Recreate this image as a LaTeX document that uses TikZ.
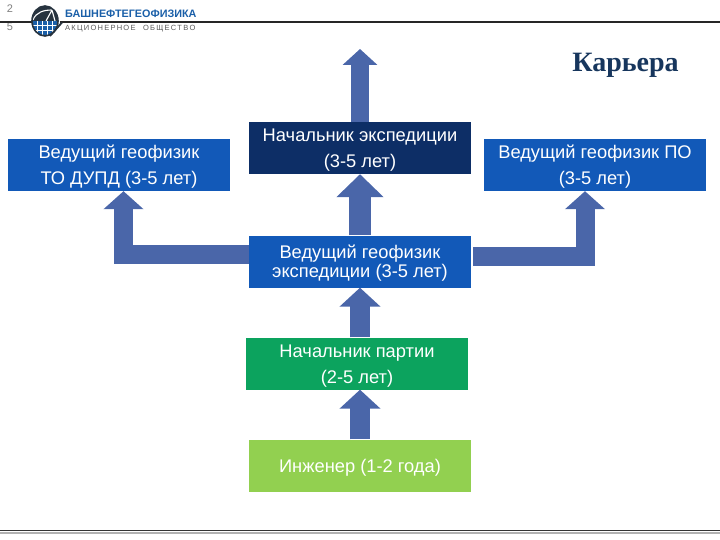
\documentclass[tikz,border=0pt]{standalone}
\usepackage{fontspec}
\setmainfont{Liberation Sans}
\newfontfamily\titlefont{Liberation Serif}
\usetikzlibrary{arrows.meta}
\definecolor{bluebox}{HTML}{1259B8}
\definecolor{darkbox}{HTML}{0D2E66}
\definecolor{greenbox}{HTML}{0CA35E}
\definecolor{limebox}{HTML}{92D050}
\definecolor{arrowblue}{HTML}{4A66A9}
\definecolor{titleblue}{HTML}{17365D}
\definecolor{logoblue}{HTML}{1A5FA8}
\definecolor{logodark}{HTML}{27333F}
\newcommand\dropline{\rule{0pt}{17.5pt}}
\tikzset{
  boxnode/.style={draw=none,minimum width=222pt,minimum height=52pt,inner sep=0pt,align=center,text=white},
  wide/.style={font=\fontsize{18.3}{26}\selectfont},
  tight/.style={font=\fontsize{18.3}{19}\selectfont},
  blockup/.style={draw=arrowblue,line width=20pt,-{Triangle[length=19pt,width=40pt]},arrowblue},
  blockbig/.style={draw=arrowblue,line width=19pt,-{Triangle[length=18pt,width=39pt]},arrowblue},
}
\begin{document}
\begin{tikzpicture}[x=1pt,y=-1pt]
\useasboundingbox (0,0) rectangle (720,540);
% header
\draw[line width=2.5pt,black!85] (0,22) -- (720,22);
\node[text=gray,font=\fontsize{11}{11}\selectfont,inner sep=0pt] (pa) at (10,9) {2};
\node[text=gray,font=\fontsize{11}{11}\selectfont,inner sep=0pt] (pb) at (10,27) {5};
% logo
\fill[white] (30,5) rectangle (60,38);
\draw[line width=2.5pt,black!85] (0,22) -- (32,22);
\fill[logoblue] (45,21) ellipse (13 and 15);
\begin{scope}
\clip (45,21) ellipse (13 and 15);
\fill[logodark] (30,5) rectangle (60,21);
\draw[white,line width=0.7pt] (30,25) -- (60,25) (30,30) -- (60,30);
\draw[white,line width=0.7pt] (37,21) -- (37,37) (42,21) -- (42,37) (47,21) -- (47,37) (52,21) -- (52,37);
\draw[white,line width=1.1pt] (33,20) .. controls (36,12) and (44,10) .. (52,10);
\draw[white,line width=1.1pt] (46,21) -- (52,10) -- (55,21);
\end{scope}
\draw[logodark,line width=1.6pt] (45,21) ellipse (13 and 15);
\draw[logodark,line width=1.8pt] (50,36) -- (62,22.5);
\node[anchor=west,inner sep=0pt,text=logoblue,font=\fontsize{10.8}{11}\selectfont\bfseries] (co) at (65,14) {БАШНЕФТЕГЕОФИЗИКА};
\node[anchor=west,inner sep=0pt,text=black!65,font=\fontsize{7.5}{8}\selectfont] (sub) at (65,28.5) {А\,К\,Ц\,И\,О\,Н\,Е\,Р\,Н\,О\,Е\quad О\,Б\,Щ\,Е\,С\,Т\,В\,О};
% title
\node[text=titleblue,font=\fontsize{28}{30}\titlefont\bfseries,inner sep=0pt] (title) at (625.5,65) {Карьера};
% boxes
\node[boxnode,wide,fill=bluebox] (left) at (119,165) {\dropline Ведущий геофизик\\ТО ДУПД (3-5 лет)};
\node[boxnode,wide,fill=darkbox] (chief) at (360,148) {\dropline Начальник экспедиции\\(3-5 лет)};
\node[boxnode,wide,fill=bluebox] (right) at (595,165) {\dropline Ведущий геофизик ПО\\(3-5 лет)};
\node[boxnode,tight,fill=bluebox] (lead) at (360,261.5) {\dropline Ведущий геофизик\\экспедиции (3-5 лет)};
\node[boxnode,wide,fill=greenbox] (party) at (357,363.5) {\dropline Начальник партии\\(2-5 лет)};
\node[boxnode,wide,fill=limebox] (eng) at (360,465.5) {\dropline Инженер (1-2 года)};
\coordinate (out) at (360,49);
% arrows
\draw[blockup] (eng.north) -- ([xshift=3pt]party.south);
\draw[blockup] ([xshift=3pt]party.north) -- (lead.south);
\draw[blockup,line width=22pt,-{Triangle[length=23pt,width=46pt]}] (lead.north) -- (chief.south);
\draw[blockup,line width=18pt,-{Triangle[length=16pt,width=34pt]}] (chief.north) -- (out);
\draw[blockbig] ([yshift=7pt]lead.west) -| ([xshift=4.5pt]left.south);
\draw[blockbig] ([xshift=2pt,yshift=5pt]lead.east) -| ([xshift=-10pt]right.south);
% bottom rule
\draw[line width=1.5pt,black!80] (0,530.5) -- (720,530.5);
\draw[line width=1.5pt,black!30] (0,533) -- (720,533);
\end{tikzpicture}
\end{document}
